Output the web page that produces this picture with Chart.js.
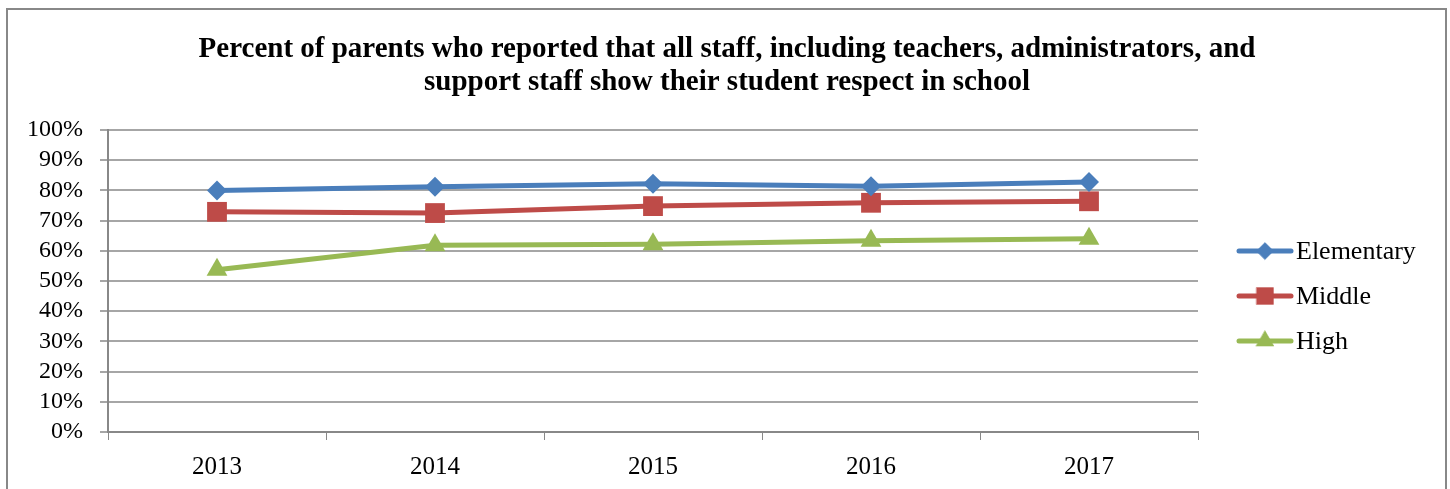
<!DOCTYPE html>
<html>
<head>
<meta charset="utf-8">
<script src="https://cdn.jsdelivr.net/npm/chart.js@4.4.1/dist/chart.umd.min.js"></script>
<style>
  html, body { margin: 0; padding: 0; background: #fff; }
  #wrap { width: 1450px; height: 489px; }
</style>
</head>
<body>
<div id="wrap"><canvas id="myChart" width="1450" height="489"></canvas></div>
<script>
var years = ["2013", "2014", "2015", "2016", "2017"];
var elementary = [80.0, 81.2, 82.2, 81.4, 82.8];
var middle = [72.9, 72.5, 74.8, 75.9, 76.4];
var high = [53.7, 61.8, 62.2, 63.3, 64.0];
var seriesNames = ["Elementary", "Middle", "High"];
var seriesColors = ["#4a7ebb", "#be4b48", "#98b954"];
var titleLines = [
  "Percent of parents who reported that all staff, including teachers, administrators, and",
  "support staff show their student respect in school"
];

var serif = "'Liberation Serif', 'Times New Roman', serif";
var markers = [
  { style: "rectRot", r: 10 },
  { style: "rect", r: 14 },
  { style: "triangle", r: 12 }
];

// title, border and legend drawn by hand
var decor = {
  id: "decor",
  afterDraw: function (chart) {
    var ctx = chart.ctx;
    ctx.save();
    ctx.strokeStyle = "#888888";
    ctx.lineWidth = 2;
    ctx.strokeRect(7, 9, 1439, 490);

    ctx.fillStyle = "#000";
    ctx.font = "bold 29px " + serif;
    ctx.textAlign = "center";
    ctx.textBaseline = "alphabetic";
    ctx.fillText(titleLines[0], 727, 57);
    ctx.fillText(titleLines[1], 727, 90);

    ctx.textAlign = "left";
    ctx.textBaseline = "middle";
    var ys = [251, 296, 341];
    for (var i = 0; i < 3; i++) {
      var y = ys[i];
      ctx.strokeStyle = seriesColors[i];
      ctx.fillStyle = seriesColors[i];
      ctx.lineWidth = 5;
      ctx.lineCap = "round";
      ctx.beginPath();
      ctx.moveTo(1239, y);
      ctx.lineTo(1291, y);
      ctx.stroke();
      ctx.lineWidth = 0.5;
      Chart.helpers.drawPoint(ctx, {
        pointStyle: markers[i].style,
        radius: markers[i].r * 0.85,
        borderWidth: 0.5
      }, 1265, y);
      ctx.fillStyle = "#000";
      ctx.font = "26px " + serif;
      ctx.fillText(seriesNames[i], 1296, y + 1);
    }
    ctx.restore();
  }
};

var datasets = [elementary, middle, high].map(function (vals, i) {
  return {
    label: seriesNames[i],
    data: vals,
    borderColor: seriesColors[i],
    backgroundColor: seriesColors[i],
    borderWidth: 5,
    pointStyle: markers[i].style,
    pointRadius: markers[i].r,
    pointHoverRadius: markers[i].r,
    pointBorderWidth: 0,
    tension: 0
  };
});

new Chart("myChart", {
  type: "line",
  data: { labels: years, datasets: datasets },
  plugins: [decor],
  options: {
    responsive: false,
    animation: false,
    layout: { padding: { left: 0, right: 252, top: 130, bottom: 0 } },
    plugins: {
      legend: { display: false },
      title: { display: false },
      tooltip: { enabled: false }
    },
    scales: {
      x: {
        offset: true,
        grid: {
          offset: true,
          drawOnChartArea: false,
          drawTicks: true,
          tickLength: 8,
          color: "#888888"
        },
        border: { color: "#888888", width: 2 },
        ticks: { color: "#000", padding: 12, font: { family: serif, size: 25 } },
        afterFit: function (s) { s.height = 57; }
      },
      y: {
        min: 0,
        max: 100,
        grid: {
          color: "#a6a6a6",
          lineWidth: 2,
          tickLength: 8,
          drawTicks: true
        },
        border: { color: "#888888", width: 2 },
        ticks: {
          stepSize: 10,
          autoSkip: false,
          color: "#000",
          padding: 17,
          font: { family: serif, size: 24 },
          callback: function (v) { return v + "%"; }
        },
        afterFit: function (s) { s.width = 108; }
      }
    }
  }
});
</script>
</body>
</html>
